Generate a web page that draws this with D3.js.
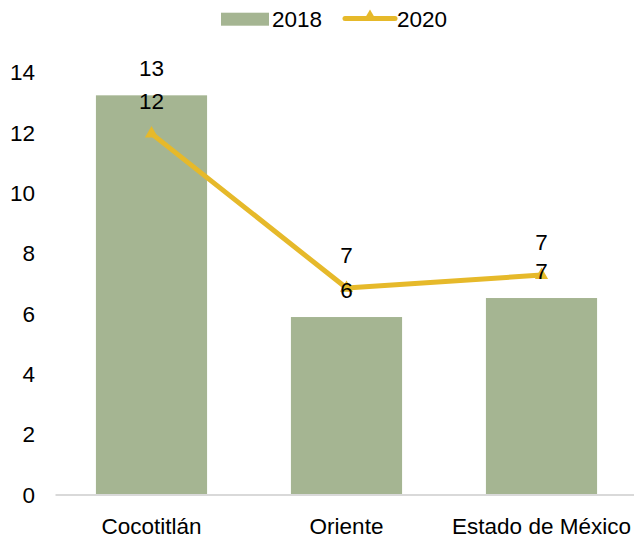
<!DOCTYPE html>
<html>
<head>
<meta charset="utf-8">
<script src="https://cdn.jsdelivr.net/npm/d3@7"></script>
<style>
  body { margin: 0; background: #fff; }
  text { font-family: "Liberation Sans", Arial, sans-serif; fill: #000; }
</style>
</head>
<body>
<svg id="chart" width="634" height="540"></svg>
<script>
var categories = ['Cocotitlán', 'Oriente', 'Estado de México'];
var values2018 = [13.25, 5.9, 6.53];
var values2020 = [11.98, 6.86, 7.29];
var yTicks = [0, 2, 4, 6, 8, 10, 12, 14];
var seriesNames = ['2018', '2020'];

var BAR = '#a5b592', LINE = '#e6b92a', FS = '22.5px';
var svg = d3.select('#chart');
var x = d3.scaleBand().domain(categories).range([54, 639]).paddingInner(0.43).paddingOuter(0.215);
var y = d3.scaleLinear().domain([0, 14]).range([495, 72.7]);

// y tick labels, no gridlines
var yAxis = svg.append('g').attr('transform', 'translate(35,0)')
    .call(d3.axisLeft(y).tickValues(yTicks).tickSize(0).tickPadding(0));
yAxis.select('.domain').remove();
yAxis.selectAll('text').style('font-size', FS).attr('font-family', null);

// bars
svg.selectAll('rect.bar').data(values2018).enter().append('rect')
    .attr('class', 'bar')
    .attr('x', function(d, i) { return x(categories[i]); })
    .attr('width', x.bandwidth())
    .attr('y', function(d) { return y(d); })
    .attr('height', function(d) { return y(0) - y(d); })
    .attr('fill', BAR);

// x axis line + category labels
var xAxis = svg.append('g').attr('transform', 'translate(0,' + y(0) + ')')
    .call(d3.axisBottom(x).tickSize(0).tickPadding(23));
xAxis.select('.domain').attr('stroke', '#d9d9d9').attr('stroke-width', 2)
    .attr('d', 'M55.5,0H634');
xAxis.selectAll('text').style('font-size', FS).attr('font-family', null);

// 2020 line
var cx = function(i) { return x(categories[i]) + x.bandwidth() / 2; };
var line = d3.line().x(function(d, i) { return cx(i); }).y(function(d) { return y(d); });
svg.append('path').datum(values2020).attr('d', line)
    .attr('fill', 'none').attr('stroke', LINE).attr('stroke-width', 5)
    .attr('stroke-linejoin', 'round').attr('stroke-linecap', 'round');
var tri = d3.symbol().type(d3.symbolTriangle).size(75);
svg.selectAll('path.mk').data(values2020).enter().append('path')
    .attr('class', 'mk').attr('d', tri)
    .attr('transform', function(d, i) { return 'translate(' + cx(i) + ',' + y(d) + ')'; })
    .attr('fill', LINE);

// data labels
svg.selectAll('text.lb18').data(values2018).enter().append('text')
    .attr('class', 'lb18').attr('text-anchor', 'middle').style('font-size', FS)
    .attr('x', function(d, i) { return cx(i); })
    .attr('y', function(d) { return y(d) - 27; }).attr('dy', '0.35em')
    .text(function(d) { return d3.format('.0f')(d); });
svg.selectAll('text.lb20').data(values2020).enter().append('text')
    .attr('class', 'lb20').attr('text-anchor', 'middle').style('font-size', FS)
    .attr('x', function(d, i) { return cx(i); })
    .attr('y', function(d) { return y(d) - 33; }).attr('dy', '0.35em')
    .text(function(d) { return d3.format('.0f')(d); });

// legend
var lg = svg.append('g');
lg.append('rect').attr('x', 221).attr('y', 12.7).attr('width', 48).attr('height', 13).attr('fill', BAR);
lg.append('text').attr('x', 272).attr('y', 19).attr('dy', '0.35em').style('font-size', FS).text(seriesNames[0]);
lg.append('line').attr('x1', 345).attr('x2', 395).attr('y1', 18.5).attr('y2', 18.5)
    .attr('stroke', LINE).attr('stroke-width', 5).attr('stroke-linecap', 'round');
lg.append('path').attr('d', tri).attr('transform', 'translate(370,17)').attr('fill', LINE);
lg.append('text').attr('x', 397).attr('y', 19).attr('dy', '0.35em').style('font-size', FS).text(seriesNames[1]);
</script>
</body>
</html>
